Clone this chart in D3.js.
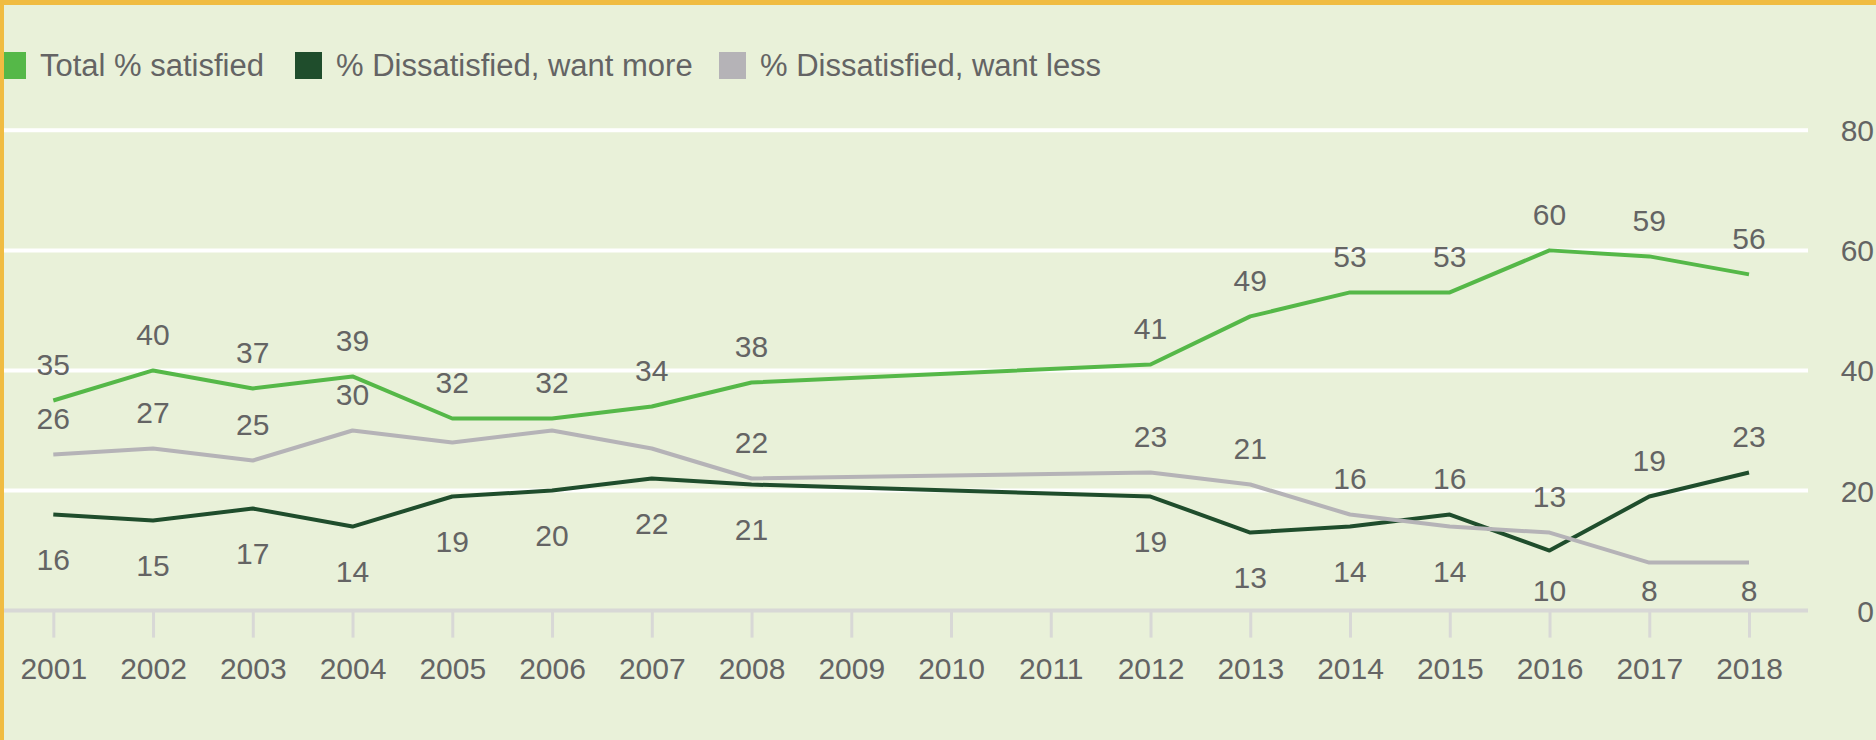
<!DOCTYPE html>
<html>
<head>
<meta charset="utf-8">
<script src="https://cdn.jsdelivr.net/npm/d3@7"></script>
<style>
  html, body { margin: 0; padding: 0; background: #e9f1d9; }
  svg { display: block; font-family: "Liberation Sans", Arial, sans-serif; }
</style>
</head>
<body>
<div id="chart"></div>
<script>
// Data
const years = [2001, 2002, 2003, 2004, 2005, 2006, 2007, 2008, 2012, 2013, 2014, 2015, 2016, 2017, 2018]
const satisfied = [35, 40, 37, 39, 32, 32, 34, 38, 41, 49, 53, 53, 60, 59, 56]
const wantMore = [16, 15, 17, 14, 19, 20, 22, 21, 19, 13, 14, 16, 10, 19, 23]
const wantLess = [26, 27, 25, 30, 28, 30, 27, 22, 23, 21, 16, 14, 13, 8, 8]
const axisYears = d3.range(2001, 2019)
const yTicks = [0, 20, 40, 60, 80]
const seriesNames = ['Total % satisfied', '% Dissatisfied, want more', '% Dissatisfied, want less']
// points that carry no value label in the original
const unlabeledLess = [2005, 2006, 2007]

function draw() {
  const width = 1876
  const height = 740
  const colors = ['#55b848', '#1f4d2c', '#b5b3b7']
  const textColor = '#646464'

  const svg = d3.select('#chart')
    .append('svg')
    .attr('width', width)
    .attr('height', height)

  svg.append('rect')
    .attr('width', width)
    .attr('height', height)
    .attr('fill', '#e9f1d9')

  // scales
  const xScale = d3.scaleLinear()
    .domain([2001, 2018])
    .range([53.3, 1749])

  const yScale = d3.scaleLinear()
    .domain([0, 80])
    .range([610.6, 130.3])

  // gridlines
  svg.append('g')
    .selectAll('line')
    .data(yTicks.filter(d => d > 0))
    .join('line')
    .attr('x1', 0)
    .attr('x2', 1808)
    .attr('y1', d => yScale(d))
    .attr('y2', d => yScale(d))
    .attr('stroke', '#ffffff')
    .attr('stroke-width', 4)

  // y axis labels on the right
  const yAxis = d3.axisRight(yScale)
    .tickValues(yTicks)
    .tickSize(0)
    .tickPadding(0)

  const yAxisGroup = svg.append('g')
    .attr('transform', 'translate(1874, 0)')
    .call(yAxis)
  yAxisGroup.select('.domain').remove()
  yAxisGroup.selectAll('text')
    .attr('text-anchor', 'end')
    .attr('x', 0)
    .attr('dy', '0.35em')
    .attr('fill', textColor)
    .style('font-size', '30px')
    .style('font-family', '"Liberation Sans", Arial, sans-serif')

  // x axis
  const xAxis = d3.axisBottom(xScale)
    .tickValues(axisYears)
    .tickFormat(d3.format('d'))
    .tickSize(27)
    .tickSizeOuter(0)

  const xAxisGroup = svg.append('g')
    .attr('transform', `translate(0, ${yScale(0)})`)
    .call(xAxis)
  xAxisGroup.select('.domain')
    .attr('d', 'M0,0H1808')
    .attr('stroke', '#d8d8d6')
    .attr('stroke-width', 4)
  xAxisGroup.selectAll('.tick line')
    .attr('stroke', '#d8d8d6')
    .attr('stroke-width', 3)
  xAxisGroup.selectAll('text')
    .attr('y', 58)
    .attr('dy', '0.35em')
    .attr('fill', textColor)
    .style('font-size', '30px')
    .style('font-family', '"Liberation Sans", Arial, sans-serif')

  // lines
  const series = [satisfied, wantMore, wantLess]
  const lineGen = d3.line()
    .x((d, i) => xScale(years[i]))
    .y(d => yScale(d))

  svg.append('g')
    .selectAll('path')
    .data(series)
    .join('path')
    .attr('d', d => lineGen(d))
    .attr('fill', 'none')
    .attr('stroke', (d, i) => colors[i])
    .attr('stroke-width', 4)
    .attr('stroke-linejoin', 'round')

  // value labels
  const labels = []
  years.forEach((yr, i) => {
    labels.push({ year: yr, value: satisfied[i], side: 'above' })
    const moreAbove = wantMore[i] > wantLess[i]
    labels.push({ year: yr, value: wantMore[i], side: moreAbove ? 'above' : 'below' })
    if (!unlabeledLess.includes(yr)) {
      labels.push({ year: yr, value: wantLess[i], side: moreAbove ? 'below' : 'above' })
    }
  })

  svg.append('g')
    .selectAll('text')
    .data(labels)
    .join('text')
    .attr('x', d => xScale(d.year))
    .attr('y', d => d.side === 'above'
      ? yScale(d.value) - 36
      : Math.min(yScale(d.value) + 45, yScale(0) - 20))
    .attr('dy', '0.35em')
    .attr('text-anchor', 'middle')
    .attr('fill', textColor)
    .style('font-size', '30px')
    .text(d => d.value)

  // legend
  const legendX = [-1, 295, 719]
  const legend = svg.append('g')
    .selectAll('g')
    .data(seriesNames)
    .join('g')
    .attr('transform', (d, i) => `translate(${legendX[i]}, 52)`)

  legend.append('rect')
    .attr('width', 27)
    .attr('height', 27)
    .attr('fill', (d, i) => colors[i])

  legend.append('text')
    .attr('x', 41)
    .attr('y', 13.5)
    .attr('dy', '0.35em')
    .attr('fill', textColor)
    .style('font-size', '31px')
    .text(d => d)

  // frame
  svg.append('rect')
    .attr('width', width)
    .attr('height', 5)
    .attr('fill', '#f0bc42')
  svg.append('rect')
    .attr('width', 4)
    .attr('height', height)
    .attr('fill', '#f0bc42')
}

draw()
</script>
</body>
</html>
